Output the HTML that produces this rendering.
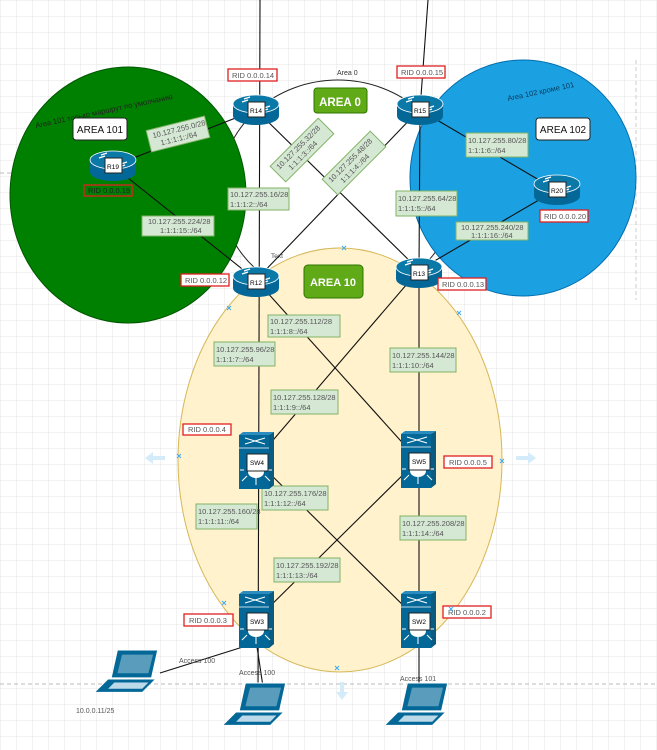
<!DOCTYPE html>
<html><head><meta charset="utf-8"><style>
html,body{margin:0;padding:0;background:#fff;}
svg{display:block;}
text{font-family:"Liberation Sans","DejaVu Sans",sans-serif;}
.lb rect{fill:#d5e8d4;stroke:#82b366;stroke-width:1;}
.lb text{font-size:7.5px;fill:#555;}
.rid rect{fill:#fff;stroke:#e02020;stroke-width:1.3;}
.rid text{font-size:7.5px;fill:#555;}
.ln{stroke:#111;stroke-width:1.1;fill:none;}
</style></head><body>
<svg width="657" height="750" viewBox="0 0 657 750" xmlns="http://www.w3.org/2000/svg">
<defs>
<pattern id="g" width="16" height="16" patternUnits="userSpaceOnUse">
<path d="M16 0H0V16" fill="none" stroke="#e4e4e4" stroke-width="1"/>
</pattern>
<g id="rt">
<path d="M-23,-6 v12 a23,9 0 0 0 46,0 v-12 z" fill="#036897"/>
<ellipse cx="0" cy="-6" rx="23" ry="9" fill="#0b79a8" stroke="#fff" stroke-width="0.8"/>
<path d="M-14,-8 l6,-2 M14,-4 l-6,2 M-6,-13 l-6,2 M6,1 l6,-2" stroke="#fff" stroke-width="1.2"/>
</g>
<g id="sw">
<path d="M-17,-27 h30 l5,-3 v53 l-5,4 h-30 z" fill="#036897"/>
<path d="M13,-27 l5,-3 v53 l-5,4 z" fill="#0a5b82"/>
<path d="M-17,-27 l4,-3 h31 l-5,3 z" fill="#2a8cbf"/>
<path d="M-17,-14 h30" stroke="#fff" stroke-width="0.8"/>
<path d="M-11,-24 l20,6 M-11,-18 l20,-6" stroke="#fff" stroke-width="1"/>
<path d="M-9,14 l-5,5 M0,15 v8 M9,14 l5,5 M-12,8 h-4 M12,8 h4" stroke="#fff" stroke-width="1"/>
<ellipse cx="0" cy="10" rx="8" ry="6" fill="#fff"/>
</g>
<g id="lp">
<path d="M-12,-20 h26 l-4,18 h-26 z" fill="#036897" stroke="#fff" stroke-width="0.6"/>
<path d="M-9,-17 h20 l-3,12 h-20 z" fill="#fff" opacity="0.35"/>
<path d="M-18,-1 h30 l-8,8 h-30 z" fill="#036897"/>
<path d="M-14,1 h22 l-4,4 h-22 z" fill="#bcd9ea"/>
</g>
</defs>
<rect width="657" height="750" fill="url(#g)"/>
<line x1="0" y1="684" x2="657" y2="684" stroke="#bbb" stroke-dasharray="4,3"/>
<line x1="0" y1="173" x2="20" y2="173" stroke="#bbb" stroke-dasharray="4,3"/>
<line x1="636" y1="60" x2="636" y2="300" stroke="#ccc" stroke-dasharray="4,3"/>

<ellipse cx="338" cy="190" rx="118" ry="110" fill="#fff" stroke="#222" stroke-width="1"/>
<ellipse cx="340" cy="460" rx="162" ry="212" fill="#fff2cc" stroke="#d6b656" stroke-width="1"/>
<ellipse cx="128" cy="195" rx="118" ry="128" fill="#008000" stroke="#005700" stroke-width="1"/>
<ellipse cx="523" cy="178" rx="113" ry="118" fill="#1ba1e2" stroke="#006eaf" stroke-width="1"/>

<g class="ln">
<line x1="260" y1="0" x2="258" y2="700"/>
<line x1="428" y1="0" x2="420" y2="110"/>
<line x1="420" y1="110" x2="419" y2="270"/>
<line x1="419" y1="270" x2="419" y2="700"/>
<line x1="256" y1="110" x2="419" y2="270"/>
<line x1="419" y1="110" x2="256" y2="280"/>
<line x1="113" y1="166" x2="256" y2="110"/>
<line x1="113" y1="166" x2="256" y2="280"/>
<line x1="420" y1="110" x2="556" y2="190"/>
<line x1="419" y1="270" x2="556" y2="190"/>
<line x1="256" y1="280" x2="418" y2="460"/>
<line x1="419" y1="270" x2="256" y2="460"/>
<line x1="256" y1="460" x2="418" y2="620"/>
<line x1="418" y1="460" x2="256" y2="620"/>
<line x1="246" y1="646" x2="160" y2="673"/>
<line x1="256" y1="640" x2="265" y2="700"/>
</g>

<text x="337" y="75" font-size="7" fill="#333">Area 0</text>
<text transform="translate(36,128) rotate(-12)" font-size="7.5" fill="#222">Area 101 только маршрут по умолчанию</text>
<text transform="translate(508,101) rotate(-12)" font-size="7.5" fill="#0a3a5a">Area 102 кроме 101</text>
<text x="271" y="258" font-size="6.5" fill="#444">Text</text>

<g class="lb">
<g transform="translate(178,134) rotate(-14)"><rect x="-30" y="-11" width="60" height="22"/><text x="-25" y="-2">10.127.255.0/28</text><text x="-19" y="7">1:1:1:1::/64</text></g>
<g transform="translate(302,150) rotate(-45)"><rect x="-34" y="-11" width="68" height="22"/><text x="-30" y="-2">10.127.255.32/28</text><text x="-22" y="7">1:1:1:3::/64</text></g>
<g transform="translate(354,163) rotate(-45)"><rect x="-34" y="-11" width="68" height="22"/><text x="-30" y="-2">10.127.255.48/28</text><text x="-22" y="7">1:1:1:4::/64</text></g>
</g>
<g class="lb">
<rect x="142" y="216" width="72" height="20"/><text x="148" y="224">10.127.255.224/28</text><text x="160" y="233">1:1:1:15::/64</text>
<rect x="228" y="188" width="61" height="22"/><text x="230" y="197">10.127.255.16/28</text><text x="230" y="207">1:1:1:2::/64</text>
<rect x="466" y="133" width="62" height="24"/><text x="468" y="143">10.127.255.80/28</text><text x="468" y="153">1:1:1:6::/64</text>
<rect x="396" y="191" width="61" height="25"/><text x="398" y="201">10.127.255.64/28</text><text x="398" y="211">1:1:1:5::/64</text>
<rect x="456" y="222" width="72" height="18"/><text x="461" y="230">10.127.255.240/28</text><text x="471" y="238">1:1:1:16::/64</text>
<rect x="268" y="315" width="72" height="22"/><text x="270" y="324">10.127.255.112/28</text><text x="270" y="334">1:1:1:8::/64</text>
<rect x="214" y="342" width="61" height="24"/><text x="216" y="352">10.127.255.96/28</text><text x="216" y="362">1:1:1:7::/64</text>
<rect x="390" y="348" width="66" height="24"/><text x="392" y="358">10.127.255.144/28</text><text x="392" y="368">1:1:1:10::/64</text>
<rect x="271" y="390" width="67" height="24"/><text x="273" y="400">10.127.255.128/28</text><text x="273" y="410">1:1:1:9::/64</text>
<rect x="262" y="486" width="66" height="24"/><text x="264" y="496">10.127.255.176/28</text><text x="264" y="506">1:1:1:12::/64</text>
<rect x="196" y="504" width="61" height="25"/><text x="198" y="514">10.127.255.160/28</text><text x="198" y="524">1:1:1:11::/64</text>
<rect x="400" y="516" width="66" height="24"/><text x="402" y="526">10.127.255.208/28</text><text x="402" y="536">1:1:1:14::/64</text>
<rect x="274" y="558" width="66" height="24"/><text x="276" y="568">10.127.255.192/28</text><text x="276" y="578">1:1:1:13::/64</text>
</g>

<rect x="73" y="118" width="54" height="22" rx="3" fill="#fff" stroke="#222"/><text x="100" y="133" font-size="10" text-anchor="middle" fill="#111">AREA 101</text>
<rect x="536" y="118" width="54" height="22" rx="3" fill="#fff" stroke="#222"/><text x="563" y="133" font-size="10" text-anchor="middle" fill="#111">AREA 102</text>
<rect x="314" y="88" width="53" height="25" rx="3" fill="#60a917" stroke="#2d7600"/><text x="340" y="106" font-size="11.5" font-weight="bold" text-anchor="middle" fill="#fff">AREA 0</text>
<rect x="304" y="265" width="59" height="33" rx="4" fill="#60a917" stroke="#2d7600"/><text x="333" y="286" font-size="11" font-weight="bold" text-anchor="middle" fill="#fff">AREA 10</text>

<g transform="translate(256,110)"><use href="#rt"/><rect x="-8" y="-8" width="17" height="15" fill="#fff" stroke="#222"/><text x="0" y="3" font-size="6.5" text-anchor="middle">R14</text></g>
<g transform="translate(420,110)"><use href="#rt"/><rect x="-8" y="-8" width="17" height="15" fill="#fff" stroke="#222"/><text x="0" y="3" font-size="6.5" text-anchor="middle">R15</text></g>
<g transform="translate(113,166)"><use href="#rt"/><rect x="-8" y="-8" width="17" height="15" fill="#fff" stroke="#222"/><text x="0" y="3" font-size="6.5" text-anchor="middle">R19</text></g>
<g transform="translate(256,282)"><use href="#rt"/><rect x="-8" y="-8" width="17" height="15" fill="#fff" stroke="#222"/><text x="0" y="3" font-size="6.5" text-anchor="middle">R12</text></g>
<g transform="translate(419,273)"><use href="#rt"/><rect x="-8" y="-8" width="17" height="15" fill="#fff" stroke="#222"/><text x="0" y="3" font-size="6.5" text-anchor="middle">R13</text></g>
<g transform="translate(557,190)"><use href="#rt"/><rect x="-8" y="-8" width="17" height="15" fill="#fff" stroke="#222"/><text x="0" y="3" font-size="6.5" text-anchor="middle">R20</text></g>

<g transform="translate(256,462)"><use href="#sw"/><rect x="-9" y="-8" width="21" height="17" fill="#fff" stroke="#222"/><text x="1" y="3" font-size="6.5" text-anchor="middle">SW4</text></g>
<g transform="translate(418,461)"><use href="#sw"/><rect x="-9" y="-8" width="21" height="17" fill="#fff" stroke="#222"/><text x="1" y="3" font-size="6.5" text-anchor="middle">SW5</text></g>
<g transform="translate(256,621)"><use href="#sw"/><rect x="-9" y="-8" width="21" height="17" fill="#fff" stroke="#222"/><text x="1" y="3" font-size="6.5" text-anchor="middle">SW3</text></g>
<g transform="translate(418,621)"><use href="#sw"/><rect x="-9" y="-8" width="21" height="17" fill="#fff" stroke="#222"/><text x="1" y="3" font-size="6.5" text-anchor="middle">SW2</text></g>

<g class="rid">
<rect x="228" y="69" width="49" height="12"/><text x="232" y="78">RID 0.0.0.14</text>
<rect x="397" y="66" width="48" height="12"/><text x="401" y="75">RID 0.0.0.15</text>
<rect x="84" y="185" width="48" height="11" style="fill:none"/><text x="88" y="193" style="fill:#222">RID 0.0.0.19</text>
<rect x="181" y="274" width="48" height="12"/><text x="185" y="283">RID 0.0.0.12</text>
<rect x="438" y="278" width="48" height="12"/><text x="442" y="287">RID 0.0.0.13</text>
<rect x="540" y="210" width="48" height="12"/><text x="544" y="219">RID 0.0.0.20</text>
<rect x="183" y="424" width="48" height="11"/><text x="188" y="432">RID 0.0.0.4</text>
<rect x="444" y="456" width="48" height="12"/><text x="449" y="465">RID 0.0.0.5</text>
<rect x="184" y="614" width="49" height="12"/><text x="189" y="623">RID 0.0.0.3</text>
<rect x="443" y="606" width="48" height="12"/><text x="448" y="615">RID 0.0.0.2</text>
</g>

<use href="#lp" transform="translate(136,681) scale(1.55)"/>
<use href="#lp" transform="translate(264,714) scale(1.55)"/>
<use href="#lp" transform="translate(426,714) scale(1.55)"/>
<g font-size="7" fill="#555">
<text x="179" y="663">Access  100</text>
<text x="239" y="675">Access  100</text>
<text x="400" y="681">Access 101</text>
<text x="76" y="713">10.0.0.11/25</text>
</g>
<g stroke="#3fa9f5" stroke-width="1">
<path d="M342,246 l4,4 M346,246 l-4,4 M227,306 l4,4 M231,306 l-4,4 M457,311 l4,4 M461,311 l-4,4 M177,454 l4,4 M181,454 l-4,4 M500,459 l4,4 M504,459 l-4,4 M222,601 l4,4 M226,601 l-4,4 M449,607 l4,4 M453,607 l-4,4 M335,666 l4,4 M339,666 l-4,4"/>
</g>
<g fill="#d4ecfa">
<path d="M145,458 l8,-6 v4 h12 v4 h-12 v4 z"/>
<path d="M536,458 l-8,-6 v4 h-12 v4 h12 v4 z"/>
<path d="M342,700 l-6,-8 h4 v-10 h4 v10 h4 z"/>
</g>
</svg>
</body></html>
